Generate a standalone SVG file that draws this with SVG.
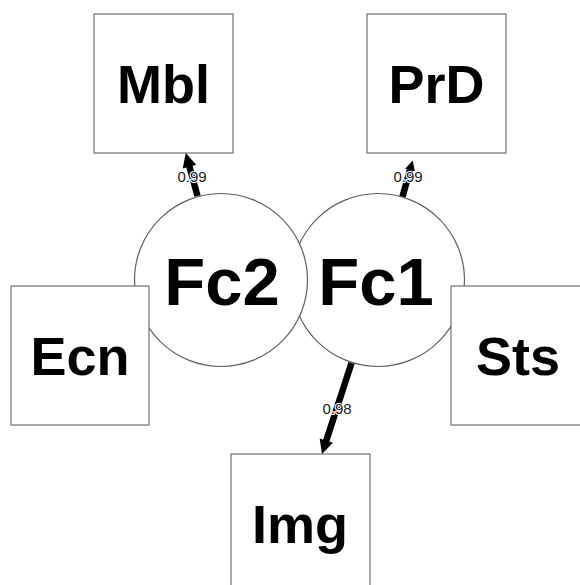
<svg xmlns="http://www.w3.org/2000/svg" width="580" height="585" viewBox="0 0 580 585">
<style>
.box{fill:#fff;stroke:#707070;stroke-width:1.2}
.circ{fill:#fff;stroke:#606060;stroke-width:1.2}
.nt{font-family:"Liberation Sans",Arial,sans-serif;font-weight:bold;fill:#000;text-anchor:middle}
.bt{font-size:54px}
.ct{font-size:67px}
.edge{stroke:#000;stroke-width:6.5;fill:none}
.el{font-family:"Liberation Sans",Arial,sans-serif;font-size:15px;fill:#1a1a1a;text-anchor:middle;stroke:#fff;stroke-width:2.2;paint-order:stroke;stroke-linejoin:round}
</style>
<defs>
<marker id="ah" markerUnits="userSpaceOnUse" markerWidth="16" markerHeight="16" refX="0" refY="7" orient="auto" overflow="visible">
<path d="M-1,0 L13,7 L-1,14 z" fill="#000"/>
</marker>
<marker id="ahs" markerUnits="userSpaceOnUse" markerWidth="12" markerHeight="12" refX="0" refY="5" orient="auto" overflow="visible">
<path d="M0,0 L10,5 L0,10 z" fill="#000"/>
</marker>
</defs>
<rect width="580" height="585" fill="#fff"/>
<g id="Fc1"><circle class="circ" cx="378" cy="280" r="86.5"/><text class="nt ct" x="376" y="305">Fc1</text></g>
<g id="Fc2"><circle class="circ" cx="221" cy="280" r="86.5"/><text class="nt ct" x="222" y="305">Fc2</text></g>
<g id="Mbl"><rect class="box" x="94" y="14" width="139" height="139"/><text class="nt bt" x="163.5" y="103">Mbl</text></g>
<g id="PrD"><rect class="box" x="367" y="14" width="139" height="139"/><text class="nt bt" x="436.5" y="103">PrD</text></g>
<g id="Ecn"><rect class="box" x="11" y="286" width="138" height="139"/><text class="nt bt" x="80" y="375">Ecn</text></g>
<g id="Sts"><rect class="box" x="451" y="286" width="139" height="139"/><text class="nt bt" x="518" y="375">Sts</text></g>
<g id="Img"><rect class="box" x="231" y="454" width="139" height="139"/><text class="nt bt" x="300" y="543">Img</text></g>
<g id="connectors">
<line class="edge" x1="197.5" y1="196" x2="189.2" y2="165.6" marker-end="url(#ah)"/>
<line class="edge" x1="402.5" y1="196.6" x2="410" y2="170" marker-end="url(#ahs)"/>
<line class="edge" x1="351.5" y1="363" x2="326" y2="441.6" marker-end="url(#ah)"/>
<text class="el" x="192" y="182">0.99</text>
<text class="el" x="408" y="182">0.99</text>
<text class="el" x="337" y="414">0.98</text>
</g>
</svg>
